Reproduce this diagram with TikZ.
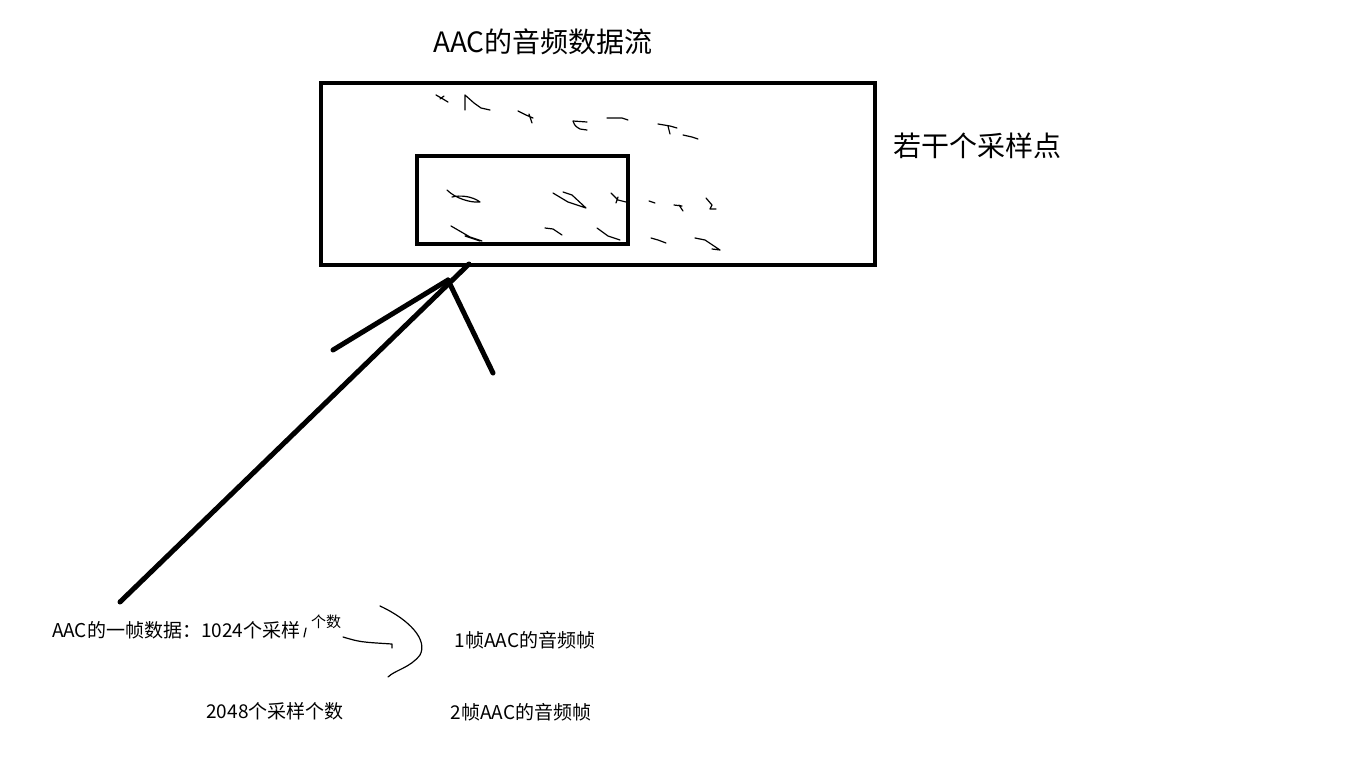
\documentclass[tikz,border=0pt]{standalone}
\usepackage{fontspec}
\setmainfont{Noto Sans CJK SC}
\usepackage{tikz}
\usetikzlibrary{positioning, calc}
\definecolor{PaintInk}{RGB}{0, 0, 0}

\begin{document}
\begin{tikzpicture}[x=1pt, y=-1pt,
    frame/.style={draw=PaintInk, line width=4pt, inner sep=0pt},
    pen/.style={draw=PaintInk, line width=1.2pt, line cap=round, line join=round},
    marker/.style={draw=PaintInk, line width=5pt, line cap=round, line join=round},
    bigtext/.style={font=\fontsize{28}{32}\selectfont},
    smalltext/.style={font=\fontsize{19}{23}\selectfont, inner sep=0pt}]
    \useasboundingbox (0,0) rectangle (1345,777);

    % Boxes
    \node[frame, minimum width=554pt, minimum height=182pt] (stream) at (598,174) {};
    \node[frame, minimum width=211pt, minimum height=88pt] (frame1) at (522.5,200) {};

    % Labels
    \node[bigtext] (title) at (543,42) {AAC的音频数据流};
    \node[bigtext, anchor=west, inner sep=0pt] (samples) at (893,146) {若干个采样点};

    % Sample marks, first row
    \draw[pen] (436,95) -- (443,99) -- (448,102) (440,99) -- (444,96);
    \draw[pen] (465,110) -- (465,95) -- (474,103) -- (481,108) -- (490,110);
    \draw[pen] (518,111) -- (526,115) -- (533,118) (529,114) -- (532,123);
    \draw[pen] (587,122) -- (573,121) .. controls (575,126) .. (580,129) -- (587,130);
    \draw[pen] (607,118) -- (622,118) -- (628,120);
    \draw[pen] (658,124) -- (670,126) -- (677,128) (668,126) -- (670,134);
    \draw[pen] (683,135) -- (692,137) -- (698,139);

    % Sample marks, second row
    \draw[pen] (447,190) .. controls (455,198) and (470,203) .. (480,202) .. controls (472,196) and (460,195) .. (452,197);
    \draw[pen] (553,193) -- (568,202) -- (586,208) (563,192) -- (572,195) -- (586,208);
    \draw[pen] (611,193) -- (618,200) -- (626,202) (618,197) -- (616,203);
    \draw[pen] (649,201) -- (655,203);
    \draw[pen] (674,205) -- (682,206) (679,205) -- (683,211);
    \draw[pen] (706,198) -- (712,205) -- (710,209) -- (716,209);

    % Sample marks, third row
    \draw[pen] (451,226) -- (470,237) -- (482,241) (465,236) -- (480,241);
    \draw[pen] (545,228) -- (553,229) -- (562,235);
    \draw[pen] (597,228) -- (608,236) -- (620,240);
    \draw[pen] (651,238) -- (658,240) -- (666,243);
    \draw[pen] (695,238) -- (705,240) -- (720,250) (712,249) -- (720,250);

    % Arrow
    \coordinate (tail) at (120,602);
    \coordinate (tip) at (469,264);
    \coordinate (barbL) at (333,350);
    \coordinate (barbR) at (493,373);
    \coordinate (knee) at (448,280);
    \draw[marker] (tail) -- (tip);
    \draw[marker] (barbL) -- (knee);
    \draw[marker] (knee) -- (barbR);

    % Notes
    \node[smalltext, anchor=west] (oneframe) at (52,630) {AAC的一帧数据：1024个采样};
    \node[font=\fontsize{15}{18}\selectfont, inner sep=0pt] (count) at (326,622) {个数};
    \node[smalltext] (frameA) at (525,640) {1帧AAC的音频帧};
    \node[smalltext] (twoframe) at (275,711) {2048个采样个数};
    \node[smalltext] (frameB) at (521,712) {2帧AAC的音频帧};

    % Brace and strokes
    \draw[pen] (306,628) -- (304,637);
    \draw[pen] (343,637) .. controls (360,642) .. (392,644) -- (392,648);
    \draw[pen] (380,606) .. controls (410,620) and (428,640) .. (420,655) .. controls (410,668) and (395,670) .. (388,677);
\end{tikzpicture}
\end{document}
